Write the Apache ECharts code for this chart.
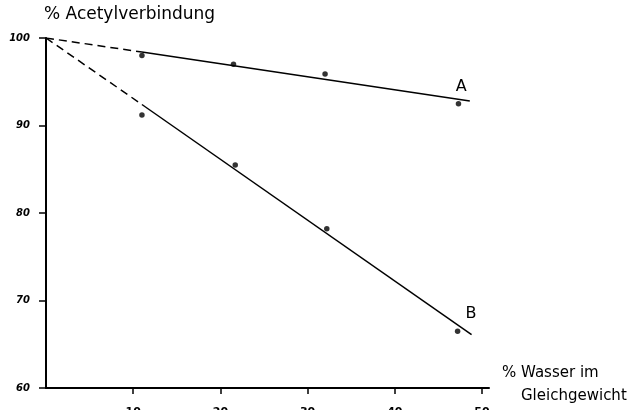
<!DOCTYPE html>
<html>
<head>
<meta charset="utf-8">
<script src="https://cdn.jsdelivr.net/npm/echarts@6/dist/echarts.min.js"></script>
<style>
html,body{margin:0;padding:0;background:#fff;}
#chart{width:635px;height:410px;}
</style>
</head>
<body>
<div id="chart"></div>
<script>
// Measured points (% Wasser im Gleichgewicht, % Acetylverbindung)
var seriesAx = [11.0, 21.5, 32.0, 47.3];
var seriesAy = [98.0, 97.0, 95.9, 92.5];
var seriesBx = [11.0, 21.7, 32.2, 47.2];
var seriesBy = [91.2, 85.5, 78.2, 66.5];
// Fitted lines: dashed extrapolation to 100 % and solid fit through data
var lineADashed = [[0, 100], [11.0, 98.4]];
var lineASolid = [[11.0, 98.4], [48.6, 92.8]];
var lineBDashed = [[0, 100], [11.0, 92.4]];
var lineBSolid = [[11.0, 92.4], [48.8, 66.1]];
var xTicks = [10, 20, 30, 40, 50];
var yTicks = [60, 70, 80, 90, 100];
var labelA = 'A';
var labelB = 'B';

function pairs(xs, ys) { return xs.map(function (x, i) { return [x, ys[i]]; }); }

var chart = echarts.init(document.getElementById('chart'), null, {renderer: 'canvas'});
var lineStyleBase = {color: '#000', width: 1.5};
var font = 'DejaVu Sans';
chart.setOption({
  animation: false,
  backgroundColor: '#fff',
  grid: {left: 46, top: 38, width: 443, height: 350, containLabel: false, outerBoundsMode: 'none'},
  xAxis: {
    type: 'value', min: 0, max: 50.8, interval: 10,
    axisLine: {lineStyle: {color: '#000', width: 2}},
    axisTick: {show: true, length: 6, lineStyle: {color: '#000', width: 1.5},
      customValues: xTicks},
    axisLabel: {show: true, margin: 19, color: '#000', fontSize: 11, fontWeight: 'bold',
      fontFamily: font, customValues: xTicks, verticalAlign: 'top'},
    splitLine: {show: false}
  },
  yAxis: {
    type: 'value', min: 60, max: 100, interval: 10,
    axisLine: {show: true, lineStyle: {color: '#000', width: 2}},
    axisTick: {show: true, length: 7, lineStyle: {color: '#000', width: 1.5},
      customValues: yTicks},
    axisLabel: {show: true, margin: 16, color: '#000', fontSize: 10, fontWeight: 'bold',
      fontStyle: 'italic', fontFamily: font, customValues: yTicks},
    splitLine: {show: false}
  },
  series: [
    {type: 'line', data: lineADashed, symbol: 'none', silent: true,
      lineStyle: Object.assign({}, lineStyleBase, {type: [8, 5]})},
    {type: 'line', data: lineASolid, symbol: 'none', silent: true,
      lineStyle: lineStyleBase,
      endLabel: {show: true, formatter: labelA, color: '#000', fontSize: 16,
        fontFamily: font, offset: [-22, -14]}},
    {type: 'line', data: lineBDashed, symbol: 'none', silent: true,
      lineStyle: Object.assign({}, lineStyleBase, {type: [8, 5]})},
    {type: 'line', data: lineBSolid, symbol: 'none', silent: true,
      lineStyle: lineStyleBase,
      endLabel: {show: true, formatter: labelB, color: '#000', fontSize: 16,
        fontFamily: font, offset: [-14, -21]}},
    {type: 'scatter', data: pairs(seriesAx, seriesAy), symbol: 'circle', symbolSize: 5.5,
      itemStyle: {color: '#000'}},
    {type: 'scatter', data: pairs(seriesBx, seriesBy), symbol: 'circle', symbolSize: 5.5,
      itemStyle: {color: '#000'}}
  ],
  graphic: [
    {type: 'text', left: 44, top: 6,
      style: {text: '% Acetylverbindung', font: '17px "DejaVu Sans"', fill: '#000'}},
    {type: 'text', left: 502, top: 366,
      style: {text: '% Wasser im', font: '15px "DejaVu Sans"', fill: '#000'}},
    {type: 'text', left: 521, top: 389,
      style: {text: 'Gleichgewicht', font: '15px "DejaVu Sans"', fill: '#000'}}
  ]
});
</script>
</body>
</html>
